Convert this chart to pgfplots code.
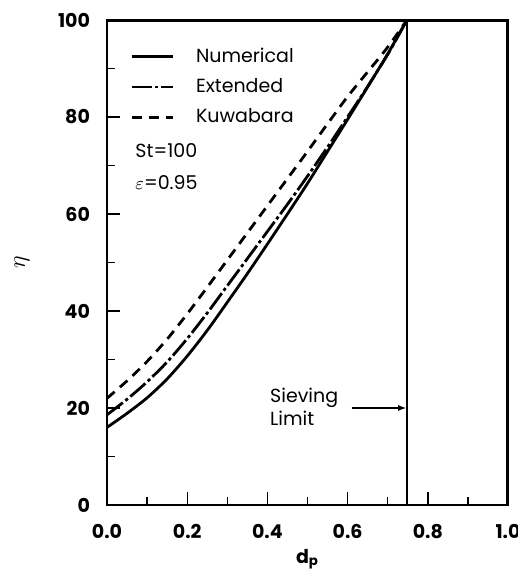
\documentclass[border=0pt]{standalone}
\usepackage{fontspec}
\setmainfont{Poppins}
\usepackage{pgfplots}
\pgfplotsset{compat=1.18}
\usetikzlibrary{arrows.meta}

\begin{document}
\begin{tikzpicture}
\begin{axis}[
  scale only axis,
  width=200.5pt, height=242.5pt,
  at={(0,0)}, anchor=south west,
  xmin=0, xmax=1, ymin=0, ymax=100,
  xtick={0,0.2,...,1.0},
  minor xtick={0.1,0.3,0.5,0.7,0.9},
  ytick={0,20,...,100},
  minor ytick={10,30,50,70,90},
  xtick pos=left, ytick pos=left,
  tick align=inside,
  major tick length=6.5pt, minor tick length=4pt,
  every tick/.style={black, line width=0.7pt},
  axis line style={line width=1.1pt},
  xticklabel style={font=\fontsize{9.5}{11}\selectfont\bfseries, yshift=-6pt},
  yticklabel style={font=\fontsize{9.5}{11}\selectfont\bfseries, xshift=-5pt},
  /pgf/number format/assume math mode=true,
  xticklabel={\pgfmathprintnumber[fixed,fixed zerofill,precision=1]{\tick}},
  yticklabel={\pgfmathprintnumber[fixed,precision=0]{\tick}},
  xlabel={\bfseries d\textsubscript{p}},
  xlabel style={font=\fontsize{9.5}{11}\selectfont, at={(axis description cs:0.5,-0.111)}, anchor=center},
  ylabel={$\eta$},
  ylabel style={font=\fontsize{12}{14}\selectfont, at={(axis description cs:-0.212,0.5)}, anchor=center},
  legend style={draw=none, fill=none, font=\fontsize{9.5}{11}\selectfont,
    at={(axis description cs:0.042,0.96)}, anchor=north west,
    row sep=2.6pt, cells={anchor=west}},
  legend image code/.code={\draw[#1] (0pt,0pt) -- (20.5pt,0pt); \path (29.5pt,0pt);},
  clip=false,
]
% Numerical
\addplot[black, line width=1.4pt, smooth] coordinates {
  (0,16) (0.05,18.9) (0.10,22.1) (0.15,26.0) (0.20,30.7) (0.25,36.0)
  (0.30,41.8) (0.35,47.7) (0.40,53.8) (0.45,60.0) (0.50,66.3) (0.55,72.9)
  (0.60,79.5) (0.65,86.2) (0.70,93.0) (0.748,100)
};
\addlegendentry{Numerical}
% Extended
\addplot[black, line width=1.4pt, smooth, dash pattern=on 10pt off 1.6pt on 1.6pt off 1.6pt] coordinates {
  (0,18.6) (0.05,21.8) (0.10,25.4) (0.15,29.5) (0.20,34.3) (0.25,39.6)
  (0.30,45.2) (0.35,50.8) (0.40,56.4) (0.45,62.0) (0.50,67.8) (0.55,73.8)
  (0.60,80.0) (0.65,86.3) (0.70,92.9) (0.748,100)
};
\addlegendentry{Extended}
% Kuwabara
\addplot[black, line width=1.4pt, smooth, dash pattern=on 5pt off 3.5pt] coordinates {
  (0,22) (0.05,25.6) (0.10,29.6) (0.15,34.2) (0.20,39.4) (0.25,44.9)
  (0.30,50.5) (0.35,56.1) (0.40,61.7) (0.45,67.3) (0.50,72.9) (0.55,78.6)
  (0.60,84.2) (0.65,89.3) (0.70,94.4) (0.748,100)
};
\addlegendentry{Kuwabara}
% Sieving limit
\addplot[black, line width=1pt, forget plot] coordinates {(0.748,0) (0.748,100)};
\draw[black, line width=1.1pt] (rel axis cs:0,0) rectangle (rel axis cs:1,1);
\draw[black, line width=1.1pt] ([xshift=-0.6pt]rel axis cs:1,0) -- ([xshift=-0.6pt,yshift=-0.6pt]rel axis cs:1,1) -- ([yshift=-0.6pt]rel axis cs:0,1);
\node[anchor=west, align=left, font=\fontsize{9.5}{11.5}\selectfont, inner sep=0pt]
  at (axis cs:0.406,20.3) {Sieving\\Limit};
\draw[-{Latex[length=4pt,width=3pt]}, line width=0.6pt] (axis cs:0.61,20) -- (axis cs:0.746,20);
\node[anchor=west, font=\fontsize{9.5}{11}\selectfont, inner sep=0pt] at (axis cs:0.07,73) {St=100};
\node[anchor=west, font=\fontsize{9.5}{11}\selectfont, inner sep=0pt] at (axis cs:0.07,66.5) {$\varepsilon$=0.95};
\end{axis}
\pgfresetboundingbox
\path (-53.5pt,-33.5pt) rectangle (205.5pt,252.5pt);
\end{tikzpicture}
\end{document}
